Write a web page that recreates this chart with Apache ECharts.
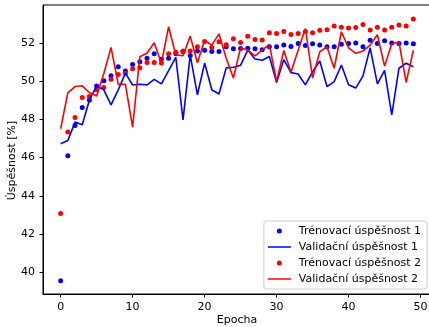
<!DOCTYPE html>
<html>
<head>
<meta charset="utf-8">
<script src="https://cdn.jsdelivr.net/npm/echarts@6/dist/echarts.min.js"></script>
<style>
    html, body { margin: 0; padding: 0; background: #fff; }
    #chart { width: 429px; height: 327px; }
</style>
</head>
<body>
<div id="chart"></div>
<script>
// epochy 0..49
const epochs = [0, 1, 2, 3, 4, 5, 6, 7, 8, 9, 10, 11, 12, 13, 14, 15, 16, 17, 18, 19,
    20, 21, 22, 23, 24, 25, 26, 27, 28, 29, 30, 31, 32, 33, 34, 35, 36, 37, 38, 39,
    40, 41, 42, 43, 44, 45, 46, 47, 48, 49];

const train1 = [39.55, 46.10, 47.68, 48.62, 49.02, 49.75, 50.03, 50.29, 50.76, 50.54,
    50.87, 51.02, 51.20, 51.44, 51.15, 51.20, 51.44, 51.56, 51.35, 51.58,
    51.62, 51.56, 51.56, 51.81, 51.70, 51.71, 51.72, 51.70, 51.65, 51.81,
    51.81, 51.90, 51.82, 51.98, 51.87, 51.96, 51.90, 51.81, 51.81, 51.93,
    51.97, 52.00, 51.80, 52.15, 51.98, 52.12, 52.00, 51.98, 52.00, 51.96];

const val1 = [46.73, 46.90, 47.86, 47.72, 49.02, 49.75, 49.55, 48.76, 49.55, 50.42,
    49.80, 49.84, 49.81, 50.10, 49.86, 50.55, 51.25, 47.98, 51.37, 49.29,
    50.95, 49.55, 49.33, 50.70, 50.73, 50.84, 51.63, 51.16, 51.10, 51.29,
    49.93, 51.13, 50.45, 50.38, 49.81, 50.50, 51.06, 49.72, 49.98, 50.85,
    49.81, 49.64, 50.28, 51.75, 49.86, 50.57, 48.24, 50.68, 50.94, 50.76];

const train2 = [43.08, 47.34, 48.10, 49.15, 49.20, 49.55, 49.67, 50.10, 50.35, 50.42,
    50.65, 50.70, 50.98, 50.98, 50.95, 51.44, 51.51, 51.58, 51.58, 51.81,
    52.08, 51.77, 52.07, 51.91, 52.22, 52.03, 52.36, 52.18, 52.16, 52.54,
    52.50, 52.60, 52.44, 52.50, 52.60, 52.54, 52.67, 52.69, 52.89, 52.82,
    52.79, 52.81, 52.97, 52.68, 52.82, 52.68, 52.82, 52.94, 52.89, 53.26];

const val2 = [47.51, 49.39, 49.72, 49.76, 49.41, 49.23, 50.40, 51.77, 49.84, 49.84,
    47.60, 51.28, 51.46, 52.01, 50.94, 52.85, 51.37, 51.33, 52.36, 50.97,
    52.13, 51.89, 52.48, 51.20, 50.17, 51.75, 51.63, 51.33, 51.63, 51.93,
    49.98, 51.61, 50.48, 51.63, 52.76, 50.16, 51.54, 51.81, 50.68, 52.59,
    51.75, 51.46, 51.58, 51.89, 52.43, 50.79, 51.96, 52.05, 49.94, 51.62];

const xTicks = [0, 10, 20, 30, 40, 50];
const yTicks = [40, 42, 44, 46, 48, 50, 52];

const names = ["Trénovací úspěšnost 1", "Validační úspěšnost 1",
    "Trénovací úspěšnost 2", "Validační úspěšnost 2"];

const FONT = "DejaVu Sans";
const FS = 11;
// legend handle: a plain stroke, no marker
const LINE_ICON = "path://M0,0 L23,0 L23,1.5 L0,1.5 Z";

function pairs(ys) {
    return epochs.map((x, i) => [x, ys[i]]);
}

function dots(name, color, ys) {
    return {
        name: name,
        type: "scatter",
        data: pairs(ys),
        symbol: "circle",
        symbolSize: 5,
        itemStyle: {color: color, opacity: 1},
        silent: true
    };
}

function line(name, color, ys) {
    return {
        name: name,
        type: "line",
        data: pairs(ys),
        symbol: "none",
        lineStyle: {color: color, width: 1.6},
        itemStyle: {color: color},
        silent: true
    };
}

function axisCommon(ticks) {
    return {
        axisLine: {show: true, onZero: false, lineStyle: {color: "#000", width: 1}},
        axisTick: {show: true, inside: false, length: 3.5, customValues: ticks, lineStyle: {color: "#000"}},
        axisLabel: {customValues: ticks, color: "#000", fontFamily: FONT, fontSize: FS},
        splitLine: {show: false},
        nameMoveOverlap: false
    };
}

const chart = echarts.init(document.getElementById("chart"), null, {renderer: "canvas"});

const option = {
    animation: false,
    backgroundColor: "#fff",
    grid: {
        left: 43, top: 5, width: 388, height: 289,
        containLabel: false,
        outerBoundsMode: "none",
        show: true, borderColor: "#000", borderWidth: 1
    },
    xAxis: Object.assign(axisCommon(xTicks), {
        type: "value",
        min: -2.45,
        max: 51.45,
        name: "Epocha",
        nameLocation: "middle",
        nameGap: 21,
        nameTextStyle: {color: "#000", fontFamily: FONT, fontSize: FS}
    }),
    yAxis: Object.assign(axisCommon(yTicks), {
        type: "value",
        min: 38.86,
        max: 53.99,
        name: "Úspěšnost [%]",
        nameLocation: "middle",
        nameGap: 31,
        nameTextStyle: {color: "#000", fontFamily: FONT, fontSize: FS, verticalAlign: "middle", padding: [0, 22, 0, 0]}
    }),
    legend: {
        orient: "vertical",
        right: 2,
        bottom: 38,
        data: [
            {name: names[0], icon: "circle"},
            {name: names[1], icon: LINE_ICON},
            {name: names[2], icon: "circle"},
            {name: names[3], icon: LINE_ICON}
        ],
        itemWidth: 23,
        itemHeight: 5,
        itemGap: 2,
        padding: [3, 6, 3, 4],
        backgroundColor: "rgba(255,255,255,0.8)",
        borderColor: "#ccc",
        borderWidth: 1,
        borderRadius: 3,
        textStyle: {color: "#000", fontFamily: FONT, fontSize: FS, lineHeight: 14, padding: [0, 0, 0, 3]}
    },
    series: [
        dots(names[0], "#0000ff", train1),
        line(names[1], "#0000ff", val1),
        dots(names[2], "#ff0000", train2),
        line(names[3], "#ff0000", val2)
    ]
};

chart.setOption(option);
</script>
</body>
</html>
